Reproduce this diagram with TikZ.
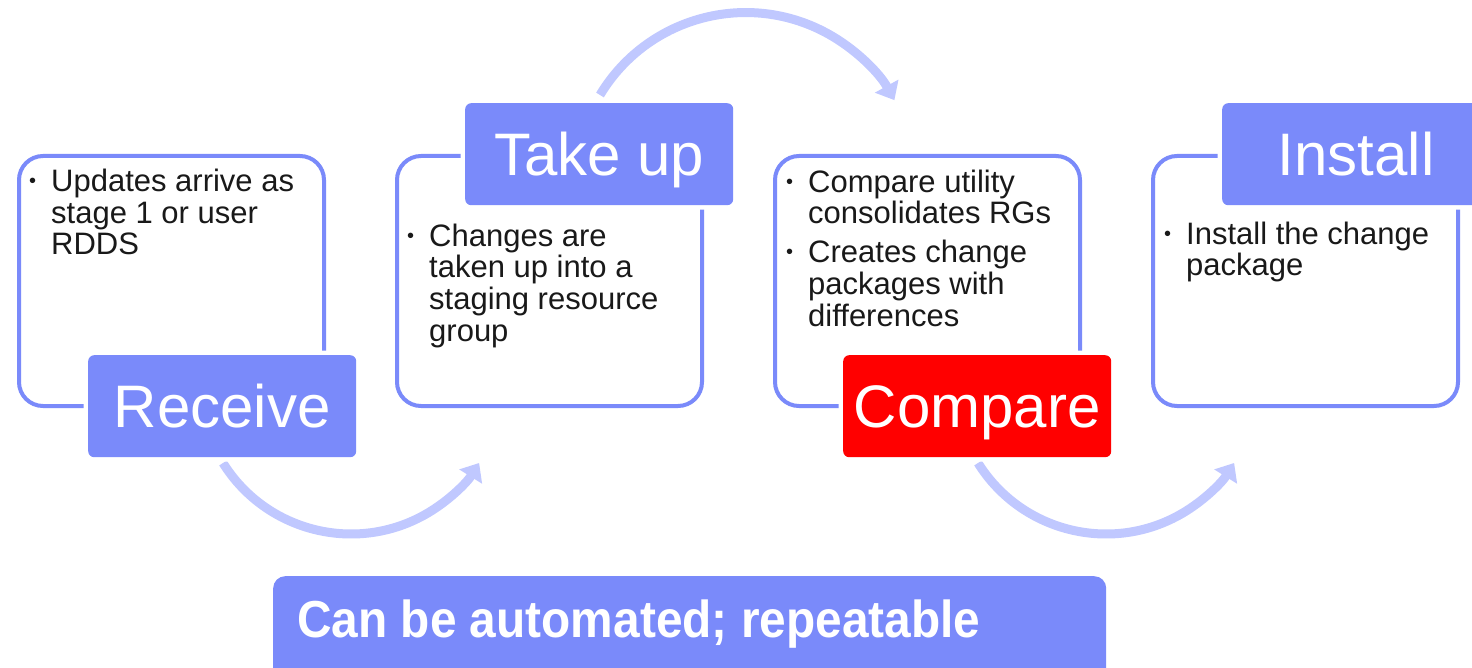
\documentclass[tikz,border=0pt]{standalone}
\usepackage{fontspec}
\setmainfont{Liberation Sans}
\usetikzlibrary{arrows.meta}
\definecolor{lblue}{RGB}{122,138,250}
\definecolor{arcblue}{RGB}{192,200,255}
\definecolor{txt}{RGB}{25,25,25}
\definecolor{cred}{RGB}{255,0,0}
\newcommand{\bul}{\makebox[22pt][l]{\fontsize{20}{20}\selectfont\raisebox{4pt}{•}}}
\newcommand{\ind}{\hspace*{22pt}}
\begin{document}
\begin{tikzpicture}[x=1pt,y=-1pt,
  card/.style={draw=lblue, line width=4pt, fill=white, rounded corners=24pt, minimum width=305pt, minimum height=250pt, anchor=north west, inner sep=0pt},
  lbl/.style={fill=lblue, rounded corners=6pt, minimum width=268pt, minimum height=102pt, anchor=north west, inner sep=0pt, text=white, font=\fontsize{60}{60}\selectfont, text height=43pt, text depth=0pt, preaction={draw=white, line width=9pt}},
  body/.style={anchor=base west, align=left, inner sep=0pt, text=txt, font=\fontsize{31}{31.5}\selectfont},
  flow/.style={draw=arcblue, line width=9pt, -{Triangle[length=16pt,width=26pt]}},
]
\useasboundingbox[fill=white] (0,0) rectangle (1472,668);

% arcs
\coordinate (a1s) at (223,463);
\coordinate (a2s) at (600,95);
\coordinate (a3s) at (978,463);
\draw[flow] (a1s) arc[start angle=148, end angle=32, radius=151];
\draw[flow] (a2s) arc[start angle=211, end angle=331, radius=170];
\draw[flow] (a3s) arc[start angle=148, end angle=32, radius=151];

% cards
\node[card] (c1) at (17,154) {};
\node[card] (c2) at (395,154) {};
\node[card] (c3) at (773,154) {};
\node[card] (c4) at (1151,154) {};

% body texts (anchored at the baseline of their last line)
\node[body] (t1) at (29,255) {\bul Updates arrive as\\\ind stage 1 or user\\\ind RDDS};
\node[body] (t2) at (407,341) {\bul Changes are\\\ind taken up into a\\\ind staging resource\\\ind group};
\node[body] (t3) at (786,326) {\bul Compare utility\\\ind consolidates RGs\\[8pt]\bul Creates change\\\ind packages with\\\ind differences};
\node[body] (t4) at (1164,276) {\bul Install the change\\\ind package};

% labels
\node[lbl] (l1) at (88,355) {Receive};
\node[lbl] (l2) at (465,103) {Take up};
\node[lbl, fill=cred] (l3) at (843,355) {Compare};
\node[lbl] (l4) at (1222,103) {Install};

% banner
\node[fill=lblue, rounded corners=12pt, minimum width=833pt, minimum height=110pt, anchor=north west, inner sep=0pt] (ban) at (273,576) {};
\node[anchor=base west, inner sep=0pt, text=white, font=\fontsize{52}{52}\selectfont\bfseries] (bant) at (297,637) {\scalebox{0.92}[1]{Can be automated; repeatable}};
\end{tikzpicture}
\end{document}
